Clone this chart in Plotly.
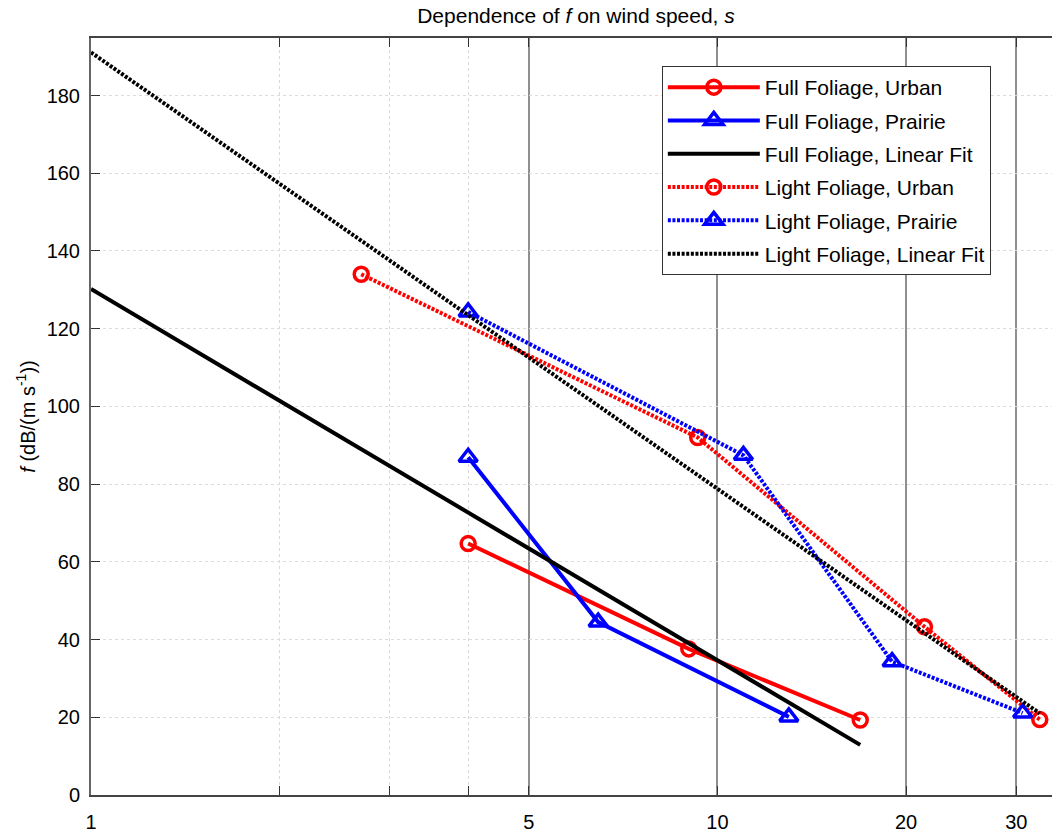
import plotly.graph_objects as go
import numpy as np

# ---------------- data ----------------
full_urban_x = [4.0, 9.0, 16.9]
full_urban_y = [64.7, 37.6, 19.3]

full_prairie_x = [4.0, 6.45, 13.0]
full_prairie_y = [86.9, 44.5, 20.1]

full_fit_x = [1.0, 16.9]
full_fit_y = [130.2, 12.9]

light_urban_x = [2.7, 9.3, 21.4, 32.7]
light_urban_y = [134.0, 92.0, 43.3, 19.4]

light_prairie_x = [4.0, 11.0, 19.0, 30.7]
light_prairie_y = [124.3, 87.4, 34.3, 21.1]

light_fit_x = [1.0, 32.7]
light_fit_y = [191.1, 21.0]

x_major_ticks = [1, 5, 10, 20, 30]
x_minor_ticks = [2, 3, 4]
y_ticks = [0, 20, 40, 60, 80, 100, 120, 140, 160, 180]

FONT = "Liberation Sans, Arial, sans-serif"
DOT = "3px,1.6px"
LW = 4

fig = go.Figure()

def add(name, x, y, color, dash, symbol=None):
    mode = "lines+markers" if symbol else "lines"
    fig.add_trace(go.Scatter(
        x=x, y=y, name=name, mode=mode, legendgroup=name,
        line=dict(color=color, width=LW, dash=dash),
        marker=dict(symbol=symbol, size=14 if symbol == "circle-open" else 16,
                    color=color, line=dict(color=color, width=3.5)) if symbol else None,
    ))

add("Full Foliage, Urban", full_urban_x, full_urban_y, "#ff0000", "solid", "circle-open")
add("Full Foliage, Prairie", full_prairie_x, full_prairie_y, "#0000ff", "solid", "triangle-up-open")
add("Full Foliage, Linear Fit", full_fit_x, full_fit_y, "#000000", "solid")
add("Light Foliage, Urban", light_urban_x, light_urban_y, "#ff0000", DOT, "circle-open")
add("Light Foliage, Prairie", light_prairie_x, light_prairie_y, "#0000ff", DOT, "triangle-up-open")
add("Light Foliage, Linear Fit", light_fit_x, light_fit_y, "#000000", DOT)

fig.update_layout(
    width=1052, height=833,
    margin=dict(l=91, r=0, t=38, b=30),
    paper_bgcolor="white", plot_bgcolor="white",
    font=dict(family=FONT, size=20, color="#000"),
    title=dict(text="Dependence of <i>f</i> on wind speed, <i>s</i>",
               x=(576 - 91) / 961, xref="paper", xanchor="center",
               y=1 - 16 / 833, yref="container", yanchor="middle",
               font=dict(size=21, family=FONT)),
    showlegend=True,
    legend=dict(x=0.594, y=0.963, xanchor="left", yanchor="top",
                bgcolor="white", bordercolor="#333", borderwidth=1,
                font=dict(size=21, family=FONT), itemwidth=92,
                tracegroupgap=3, traceorder="grouped"),
)

fig.update_xaxes(
    type="log", range=[0, np.log10(34.2)],
    tickmode="array", tickvals=x_major_ticks, ticktext=[str(v) for v in x_major_ticks],
    ticks="inside", ticklen=9, tickwidth=1.2, tickcolor="#333",
    showgrid=True, gridcolor="#8f8f8f", gridwidth=1.5,
    minor=dict(tickmode="array", tickvals=x_minor_ticks, ticks="inside", ticklen=9,
               tickwidth=1.2, tickcolor="#333", showgrid=True,
               gridcolor="#d9d9d9", gridwidth=1, griddash="dot"),
    showline=True, linecolor="#444", linewidth=1.5, mirror="ticks",
    ticklabelstandoff=8, zeroline=False,
)
fig.update_yaxes(
    range=[0, 194.8], tickmode="array", tickvals=y_ticks,
    ticks="inside", ticklen=9, tickwidth=1.2, tickcolor="#333",
    showgrid=True, gridcolor="#dcdcdc", gridwidth=1, griddash="dot",
    showline=True, linecolor="#666", linewidth=2, mirror=False,
    ticklabelstandoff=5, zeroline=False,
    title=dict(text="<i>f</i> (dB/(m s<sup>-1</sup>))", standoff=6,
               font=dict(size=20, family=FONT)),
)

fig.write_html("out.html")
